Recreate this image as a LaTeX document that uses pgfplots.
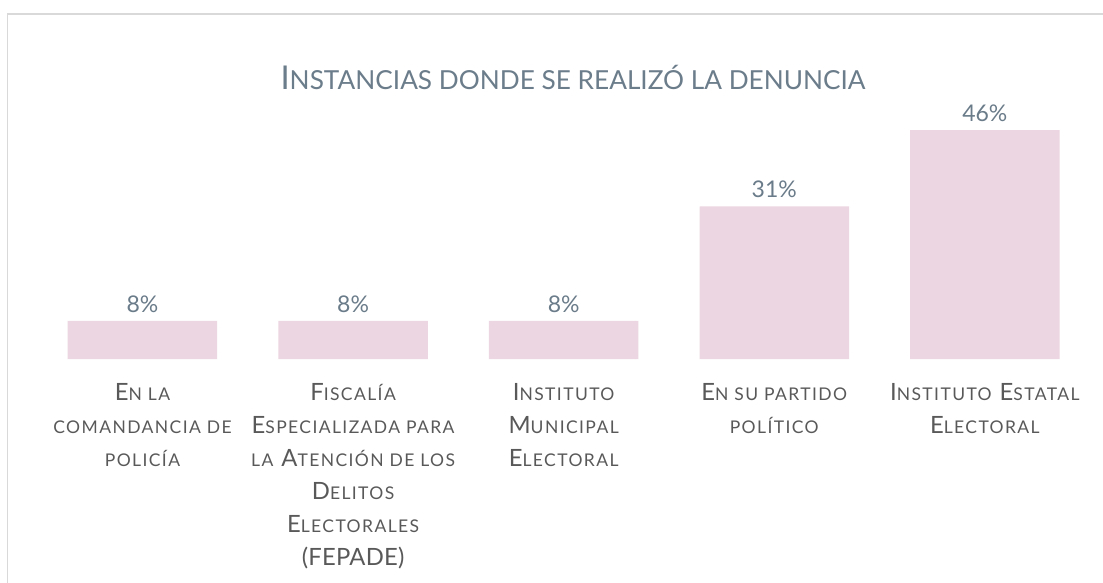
\documentclass[border=0pt]{standalone}
\usepackage{fontspec}
\setmainfont{Lato}
\usepackage{pgfplots}
\pgfplotsset{compat=1.18}
\definecolor{barfill}{HTML}{ECD6E1}
\definecolor{titlec}{HTML}{6B7C8A}
\definecolor{valc}{HTML}{6A7B89}
\definecolor{labc}{HTML}{595959}
\definecolor{framec}{HTML}{D9D9D9}
\newcommand\sm[1]{{\fontsize{17.5bp}{33bp}\selectfont #1}}
\newcommand\tsm[1]{{\fontsize{26.2bp}{30bp}\selectfont #1}}
\newcommand\st{\rule{0pt}{24bp}}
\begin{document}
\begin{tikzpicture}
\useasboundingbox (0,0) rectangle (1103bp,583bp);
\draw[framec, line width=1.5bp] (7.5bp,0) -- (7.5bp,568.8bp) -- (1110bp,568.8bp);
\node[anchor=base, text=titlec, inner sep=0, font=\fontsize{32.8bp}{36bp}\selectfont] at (573bp,493.7bp)
  {I\tsm{NSTANCIAS DONDE SE REALIZÓ LA DENUNCIA}};
\begin{axis}[
  at={(37.2bp,224bp)}, anchor=south west,
  scale only axis, width=1053bp, height=297.7bp,
  xmin=-0.5, xmax=4.5, ymin=0, ymax=60,
  axis line style={draw=none},
  ytick=\empty,
  xtick={0,1,2,3,4},
  major tick length=0pt,
  xticklabels={
    {\st E\sm{N LA}\\ \sm{COMANDANCIA DE}\\ \sm{POLICÍA}},
    {\st F\sm{ISCALÍA}\\ E\sm{SPECIALIZADA PARA}\\ \sm{LA} A\sm{TENCIÓN DE LOS}\\ D\sm{ELITOS}\\ E\sm{LECTORALES}\\ {\addfontfeature{LetterSpace=1}(FEPADE)}},
    {\st I\sm{NSTITUTO}\\ M\sm{UNICIPAL}\\ E\sm{LECTORAL}},
    {\st E\sm{N SU PARTIDO}\\ \sm{POLÍTICO}},
    {\st I\sm{NSTITUTO} E\sm{STATAL}\\ E\sm{LECTORAL}}
  },
  xticklabel style={align=center, anchor=north, inner sep=0pt, yshift=-17.7bp,
    text=labc, font=\fontsize{23.8bp}{33bp}\selectfont\addfontfeature{LetterSpace=8}},
  ybar, bar width=149.5bp,
  nodes near coords,
  point meta=explicit symbolic,
  nodes near coords style={anchor=base, yshift=8.5bp, inner sep=0pt, text=valc,
    font=\fontsize{23bp}{26bp}\selectfont},
  clip=false,
]
\addplot[fill=barfill, draw=none] coordinates {
  (0,7.69) [8\%]
  (1,7.69) [8\%]
  (2,7.69) [8\%]
  (3,30.77) [31\%]
  (4,46.15) [46\%]
};
\end{axis}
\end{tikzpicture}
\end{document}
